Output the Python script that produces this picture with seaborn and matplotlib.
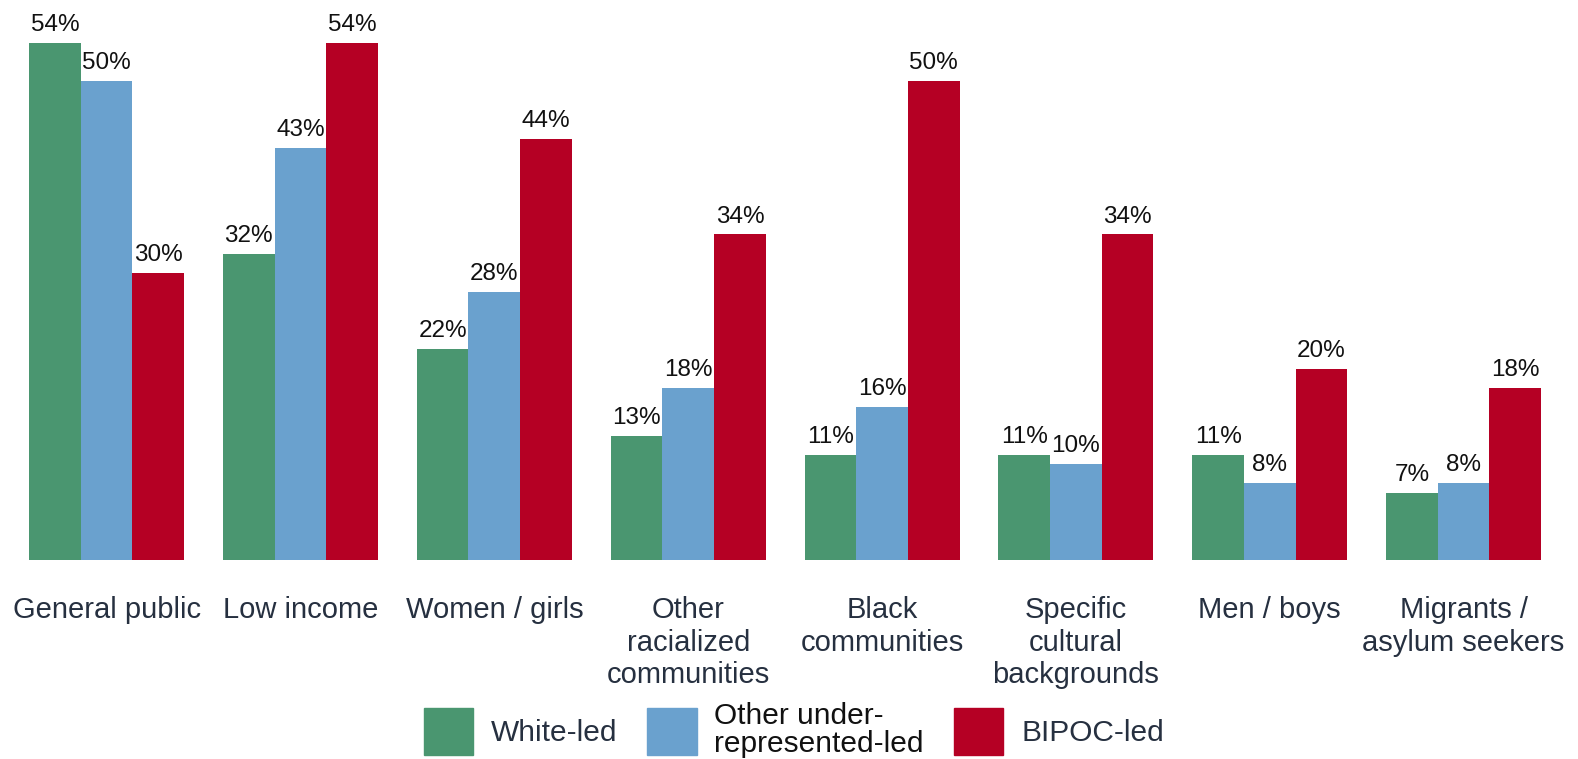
import matplotlib
matplotlib.use("Agg")
import matplotlib.pyplot as plt
import seaborn as sns
import pandas as pd

categories = ["General public", "Low income", "Women / girls",
              "Other\nracialized\ncommunities", "Black\ncommunities",
              "Specific\ncultural\nbackgrounds", "Men / boys",
              "Migrants /\nasylum seekers"]
series = ["White-led", "Other under-\nrepresented-led", "BIPOC-led"]
white_led = [54, 32, 22, 13, 11, 11, 11, 7]
other_led = [50, 43, 28, 18, 16, 10, 8, 8]
bipoc_led = [30, 54, 44, 34, 50, 34, 20, 18]
colors = ["#4a9670", "#6aa1ce", "#b50024"]

rows = []
for name, vals in zip(series, [white_led, other_led, bipoc_led]):
    for cat, v in zip(categories, vals):
        rows.append({"category": cat, "group": name, "value": v})
df = pd.DataFrame(rows)

sns.set_theme(style="white")
plt.rcParams["font.family"] = ["Liberation Sans", "DejaVu Sans"]

W, H = 1578, 759
fig = plt.figure(figsize=(W / 100, H / 100), dpi=100)
base_px = 560
ax = fig.add_axes([0, 1 - base_px / H, 1, base_px / H])

sns.barplot(data=df, x="category", y="value", hue="group",
            palette=colors, saturation=1, width=0.8, ax=ax,
            order=categories, hue_order=series, legend=False,
            linewidth=0, edgecolor="none")

for cont in ax.containers:
    ax.bar_label(cont, labels=[f"{int(b.get_height())}%" for b in cont],
                 padding=5, fontsize=17.5, color="#111111")

ax.set_ylim(0, 54 * base_px / 517)
ax.set_xlim(-0.55, 7.59)
ax.set_xlabel("")
ax.set_ylabel("")
ax.set_yticks([])
for s in ax.spines.values():
    s.set_visible(False)
ax.tick_params(axis="x", length=0, pad=26, labelsize=21,
               labelcolor="#263040")
for t in ax.get_xticklabels():
    t.set_linespacing(1.2)
    t.set_verticalalignment("top")

handles = [plt.Rectangle((0, 0), 1, 1, color=c) for c in colors]
leg = fig.legend(handles, series, loc="lower center",
                 bbox_to_anchor=(0.503, -0.002), ncol=3, frameon=False,
                 fontsize=21.5, handlelength=1.65, handleheight=2.05,
                 handletextpad=0.6, columnspacing=1.0, borderaxespad=0,
                 borderpad=0.1)
for t, c in zip(leg.get_texts(), ["#263040", "#111111", "#263040"]):
    t.set_color(c)
    t.set_linespacing(1.0)

fig.savefig("out.png", dpi=100)
